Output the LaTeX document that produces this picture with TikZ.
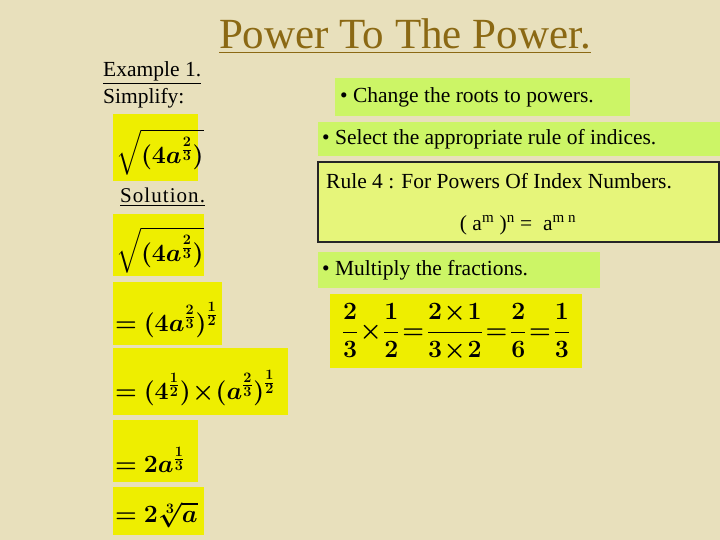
\documentclass[tikz,border=0pt]{standalone}
\usepackage{amsmath,bm}
\usepackage{fontspec}
\setmainfont{Liberation Serif}
\definecolor{bg}{HTML}{E8E0BC}
\definecolor{yel}{HTML}{EEEE00}
\definecolor{grn}{HTML}{CCF566}
\definecolor{rulebg}{HTML}{E6F57A}
\definecolor{ttl}{HTML}{8B6914}
\tikzset{
 yb/.style={fill=yel,draw=none},
 gb/.style={fill=grn,draw=none},
 mth/.style={anchor=west,inner sep=0pt,font=\fontsize{27}{30}\selectfont},
 txt/.style={anchor=west,inner sep=0pt,font=\fontsize{21.5}{24}\selectfont},
}
\newcommand{\mfr}[2]{\frac{\mathbf{#1}}{\mathbf{#2}}}
\begin{document}
\begin{tikzpicture}[x=1pt,y=-1pt]
\fill[bg] (0,0) rectangle (720,540);
\useasboundingbox (0,0) rectangle (720,540);
\node[anchor=center,inner sep=0pt,text=ttl,font=\fontsize{43}{46}\selectfont] (title) at (405,36) {\underline{Power To The Power.}};
\node[txt] (ex) at (103,73) {\underline{Example 1.}};
\node[txt] (simp) at (103,98) {Simplify:};
\node[txt,font=\fontsize{21}{24}\selectfont\addfontfeature{LetterSpace=5}] (sol) at (120,197) {\underline{Solution.}};
% yellow boxes
\fill[yb] (113,114) rectangle (198,181);
\fill[yb] (113,214) rectangle (204,276);
\fill[yb] (113,282) rectangle (222,345);
\fill[yb] (113,348) rectangle (288,415);
\fill[yb] (113,420) rectangle (198,482);
\fill[yb] (113,487) rectangle (204,535);
\node[mth] (m1) at (116,152) {$\sqrt{\bm{(4a^{\mfr23})}}$};
\node[mth] (m2) at (116,250) {$\sqrt{\bm{(4a^{\mfr23})}}$};
\node[mth] (m3) at (115,320) {$\bm{=(4a^{\mfr23})^{\mfr12}}$};
\node[mth] (m4) at (115,388) {$\bm{=(4^{\mfr12})\!\times\!(a^{\mfr23})^{\mfr12}}$};
\node[mth] (m5) at (115,460) {$\bm{=2a^{\mfr13}}$};
\node[mth] (m6) at (115,515) {$\bm{=2\sqrt[\mathbf{3}]{a}}$};
% right side
\fill[gb] (335,78) rectangle (630,116);
\node[txt] (t1) at (340,97) {• Change the roots to powers.};
\fill[gb] (318,122) rectangle (720,156);
\node[txt] (t2) at (322,139) {• Select the appropriate rule of indices.};
\filldraw[fill=rulebg,draw=black!85,line width=1.5pt] (318,162) rectangle (719,242);
\node[txt] (r1) at (326,181) {Rule 4 : For Powers Of Index Numbers.};
\node[anchor=center,inner sep=0pt,font=\fontsize{21.5}{24}\selectfont] (r2) at (518,225) {( a\textsuperscript{m} )\textsuperscript{n} = \ a\textsuperscript{m n}};
\fill[gb] (318,252) rectangle (600,288);
\node[txt] (t3) at (322,270) {• Multiply the fractions.};
\fill[yb] (330,294) rectangle (582,368);
\node[anchor=center,inner sep=0pt,font=\fontsize{24}{28}\selectfont] (fr) at (456,332) {$\displaystyle\bm{\frac23\!\times\!\frac12\!=\!\frac{2\!\times\!1}{3\!\times\!2}\!=\!\frac26\!=\!\frac13}$};
\end{tikzpicture}
\end{document}
